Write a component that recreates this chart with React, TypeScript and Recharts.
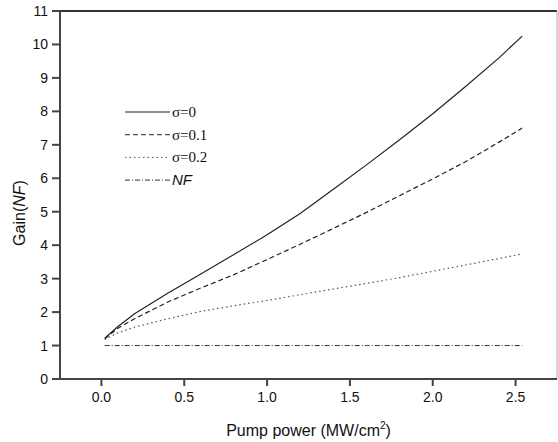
import {
  LineChart,
  Line,
  XAxis,
  YAxis,
  ReferenceLine,
} from "recharts";

const pump = [0.02, 0.1, 0.2, 0.4, 0.6, 0.8, 1.0, 1.2, 1.4, 1.6, 1.8, 2.0, 2.2, 2.4, 2.54];
const gainS0 = [1.22, 1.57, 1.95, 2.56, 3.14, 3.72, 4.31, 4.95, 5.67, 6.4, 7.15, 7.93, 8.75, 9.6, 10.25];
const gainS01 = [1.2, 1.52, 1.8, 2.3, 2.72, 3.12, 3.57, 4.03, 4.5, 4.98, 5.48, 5.98, 6.5, 7.08, 7.5];
const gainS02 = [1.18, 1.38, 1.55, 1.8, 2.02, 2.19, 2.35, 2.52, 2.69, 2.86, 3.03, 3.22, 3.41, 3.6, 3.74];
const noiseFigure = [1, 1, 1, 1, 1, 1, 1, 1, 1, 1, 1, 1, 1, 1, 1];

const xTicks = [0, 0.5, 1.0, 1.5, 2.0, 2.5];
const yTicks = [0, 1, 2, 3, 4, 5, 6, 7, 8, 9, 10, 11];

const data = pump.map((p, i) => ({
  p,
  s0: gainS0[i],
  s01: gainS01[i],
  s02: gainS02[i],
  nf: noiseFigure[i],
}));

const legendRows = [
  { label: "σ=0", dash: undefined, color: "#222", serif: true },
  { label: "σ=0.1", dash: "5 3", color: "#222", serif: true },
  { label: "σ=0.2", dash: "1.5 3", color: "#555", serif: true },
  { label: "NF", dash: "5 2 1 2", color: "#333", serif: false },
];

const font = "'Liberation Sans', Arial, sans-serif";

// legend drawn as an overlay so it doesn't push the plot area down
function ChartLegend() {
  return (
    <svg width={130} height={90} style={{ position: "absolute", left: 123, top: 104 }}>
      {legendRows.map((r, i) => {
        const y = 8 + i * 22.7;
        return (
          <g key={r.label}>
            <line x1={2} x2={47} y1={y} y2={y} stroke={r.color} strokeWidth={1} strokeDasharray={r.dash} />
            <text
              x={49}
              y={y + 5}
              fontSize={15}
              fill="#111"
              fontFamily={r.serif ? "'Liberation Serif', 'Times New Roman', serif" : font}
              fontStyle={r.serif ? "normal" : "italic"}
            >
              {r.label}
            </text>
          </g>
        );
      })}
    </svg>
  );
}

export default function App() {
  return (
    <div style={{ position: "absolute", left: 0, top: 0, width: 558, height: 442, background: "#fff" }}>
      <LineChart
        width={558}
        height={442}
        data={data}
        margin={{ top: 11, right: 1, bottom: 0, left: 0 }}
        style={{ fontFamily: font }}
      >
        <XAxis
          dataKey="p"
          type="number"
          domain={[-0.25, 2.75]}
          ticks={xTicks}
          tickFormatter={(v: number) => v.toFixed(1)}
          height={63}
          tickSize={7}
          tickMargin={6}
          stroke="#444"
          strokeWidth={2}
          tick={{ fill: "#111", fontSize: 14 }}
          label={(props: any) => {
            const vb = props.viewBox;
            return (
              <text x={vb.x + vb.width / 2} y={436} textAnchor="middle" fontSize={16} fill="#111" fontFamily={font}>
                Pump power (MW/cm
                <tspan dy={-7} fontSize={10}>2</tspan>
                <tspan dy={7}>)</tspan>
              </text>
            );
          }}
        />
        <YAxis
          type="number"
          domain={[0, 11]}
          ticks={yTicks}
          width={60}
          tickSize={8}
          tickMargin={4}
          stroke="#444"
          strokeWidth={2}
          tick={{ fill: "#111", fontSize: 14 }}
          label={() => (
            <text x={25} y={213} transform="rotate(-90 25 213)" textAnchor="middle" fontSize={16} fill="#111" fontFamily={font}>
              Gain(<tspan fontStyle="italic">NF</tspan>)
            </text>
          )}
        />
        <ReferenceLine y={11} stroke="#333" strokeWidth={2} />
        <ReferenceLine x={2.75} stroke="#aaa" strokeWidth={1} />
        <Line dataKey="s0" name="σ=0" stroke="#222" strokeWidth={1.2} dot={false} isAnimationActive={false} />
        <Line dataKey="s01" name="σ=0.1" stroke="#222" strokeWidth={1.2} strokeDasharray="5 3" dot={false} isAnimationActive={false} />
        <Line dataKey="s02" name="σ=0.2" stroke="#555" strokeWidth={1.2} strokeDasharray="1.5 3" dot={false} isAnimationActive={false} />
        <Line dataKey="nf" name="NF" stroke="#333" strokeWidth={1} strokeDasharray="5 2 1 2" dot={false} isAnimationActive={false} />
      </LineChart>
      <ChartLegend />
    </div>
  );
}
